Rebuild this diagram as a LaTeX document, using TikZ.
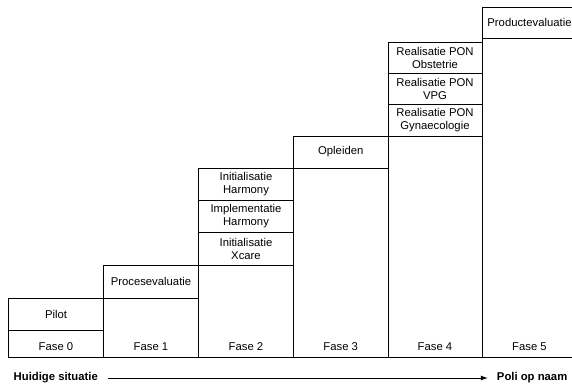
\documentclass[tikz,border=0pt]{standalone}
\usepackage{fontspec}
\setmainfont{Liberation Sans}
\usetikzlibrary{arrows.meta}
\tikzset{
  lbl/.style={font=\fontsize{11.3}{13}\selectfont, align=center, inner sep=0pt},
  stepbox/.style={lbl, draw, line width=0.8pt, minimum width=#1},
  stepbox/.default=95pt,
  colframe/.style={draw, line width=0.8pt},
  phase/.style={lbl},
  endlbl/.style={font=\fontsize{11.3}{13}\selectfont\bfseries, inner sep=0pt},
}
\begin{document}
\begin{tikzpicture}[x=1pt, y=-1pt]
  \useasboundingbox (0,0) rectangle (572,386);
  \clip (0,0) rectangle (572,386);

  % staircase columns, one per phase
  \draw[colframe] (8.5,298) rectangle (103.5,357);
  \draw[colframe] (103.5,265) rectangle (198.5,357);
  \draw[colframe] (198.5,168) rectangle (293.5,357);
  \draw[colframe] (293.5,136) rectangle (388,357);
  \draw[colframe] (388,42) rectangle (482,357);
  \draw[colframe] (482,7) rectangle (577,357);

  % activity boxes on top of each column
  \node[stepbox, minimum height=32pt] (pilot) at (56,314) {Pilot};
  \node[stepbox, minimum height=33pt] (proces) at (151,281.5) {Procesevaluatie};
  \node[stepbox, minimum height=32.3pt] (initharm) at (246,184.2) {Initialisatie\\Harmony};
  \node[stepbox, minimum height=32.3pt] (implharm) at (246,216.5) {Implementatie\\Harmony};
  \node[stepbox, minimum height=32.3pt] (initxcare) at (246,248.8) {Initialisatie\\Xcare};
  \node[stepbox, minimum height=32pt, minimum width=94.5pt] (opleiden) at (340.75,152) {Opleiden};
  \node[stepbox, minimum height=31.3pt, minimum width=94pt] (obst) at (435,57.7) {Realisatie PON\\Obstetrie};
  \node[stepbox, minimum height=31.3pt, minimum width=94pt] (vpg) at (435,89) {Realisatie PON\\VPG};
  \node[stepbox, minimum height=31.3pt, minimum width=94pt] (gyn) at (435,120.3) {Realisatie PON\\Gynaecologie};
  \node[stepbox, minimum height=31pt] (product) at (529.5,22.5) {Productevaluatie};

  % phase labels
  \node[phase] (f0) at (56,347) {Fase 0};
  \node[phase] (f1) at (151,347) {Fase 1};
  \node[phase] (f2) at (246,347) {Fase 2};
  \node[phase] (f3) at (340.75,347) {Fase 3};
  \node[phase] (f4) at (435,347) {Fase 4};
  \node[phase] (f5) at (529.5,347) {Fase 5};

  % timeline
  \node[endlbl, anchor=west] (start) at (13.5,378) {Huidige situatie};
  \node[endlbl, anchor=east] (goal) at (567.5,378) {Poli op naam};
  \draw[line width=0.8pt, -{Latex[length=7pt,width=5pt]}, shorten <=10pt, shorten >=9pt]
    (start.east) -- (goal.west);
\end{tikzpicture}
\end{document}
